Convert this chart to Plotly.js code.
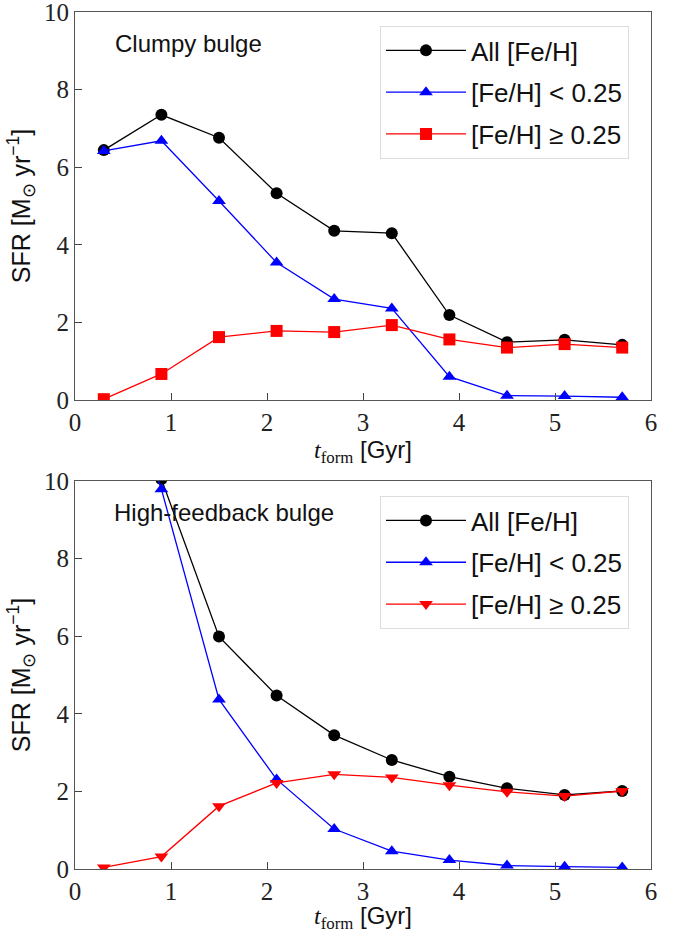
<!DOCTYPE html>
<html>
<head>
<meta charset="utf-8">
<script src="https://cdn.plot.ly/plotly-3.0.1.min.js"></script>
<style>html,body{margin:0;padding:0;background:#fff;}</style>
</head>
<body>
<div id="chart" style="width:680px;height:933px;"></div>
<script>
// t_form bin centres [Gyr]
const tform = [0.3, 0.9, 1.5, 2.1, 2.7, 3.3, 3.9, 4.5, 5.1, 5.7];

// Clumpy bulge SFR [Msun/yr]
const clumpyAll  = [6.44, 7.35, 6.76, 5.33, 4.36, 4.30, 2.19, 1.49, 1.55, 1.42];
const clumpyLow  = [6.42, 6.68, 5.13, 3.54, 2.60, 2.36, 0.60, 0.11, 0.10, 0.07];
const clumpyHigh = [0.02, 0.67, 1.62, 1.78, 1.75, 1.93, 1.56, 1.35, 1.44, 1.35];

// High-feedback bulge SFR [Msun/yr] (first bins exceed the axis range)
const fbAll  = [14.0, 10.05, 5.99, 4.47, 3.45, 2.81, 2.38, 2.08, 1.91, 2.01];
const fbLow  = [14.0, 9.79, 4.37, 2.31, 1.03, 0.46, 0.23, 0.09, 0.06, 0.04];
const fbHigh = [0.04, 0.32, 1.62, 2.22, 2.44, 2.36, 2.16, 1.99, 1.88, 2.01];

const names = ['All [Fe/H]', '[Fe/H] &lt; 0.25', '[Fe/H] ≥ 0.25'];
const panelLabels = ['Clumpy bulge', 'High-feedback bulge'];
const xTicks = [0, 1, 2, 3, 4, 5, 6];
const yTicks = [0, 2, 4, 6, 8, 10];

function tr(x, y, name, color, symbol, xa, ya, leg, grp) {
  return {
    x: x, y: y, name: name, type: 'scatter', mode: 'lines+markers',
    xaxis: xa, yaxis: ya, legend: leg, legendgroup: grp,
    line: {color: color, width: 1.3},
    marker: {color: color, symbol: symbol, size: 12},
    cliponaxis: true
  };
}

const data = [
  tr(tform, clumpyAll,  names[0], 'black', 'circle', 'x', 'y', 'legend', 'a1'),
  tr(tform, clumpyLow,  names[1], 'blue', 'triangle-up', 'x', 'y', 'legend', 'a2'),
  tr(tform, clumpyHigh, names[2], 'red', 'square', 'x', 'y', 'legend', 'a3'),
  tr(tform, fbAll,  names[0], 'black', 'circle', 'x2', 'y2', 'legend2', 'b1'),
  tr(tform, fbLow,  names[1], 'blue', 'triangle-up', 'x2', 'y2', 'legend2', 'b2'),
  tr(tform, fbHigh, names[2], 'red', 'triangle-down', 'x2', 'y2', 'legend2', 'b3')
];

const tickFont = {family: 'Liberation Serif, serif', size: 25, color: '#222'};
const titleFont = {family: 'Liberation Sans, Arial, sans-serif', size: 24, color: '#111'};
const xTitle = '<span style="font-family:Liberation Serif"><i>t</i></span><sub><span style="font-family:Liberation Serif">form</span></sub> [Gyr]';
const yTitle = 'SFR [M<sub>⊙</sub> yr<sup>−1</sup>]';

function xax(anchor) {
  return {
    anchor: anchor, domain: [0, 1], range: [0, 6], tickvals: xTicks,
    ticks: 'inside', ticklen: 7, tickcolor: '#444', tickwidth: 1,
    showline: true, mirror: true, linecolor: '#555', linewidth: 1,
    showgrid: false, zeroline: false, tickfont: tickFont,
    ticklabeloverflow: 'allow',
    title: {text: xTitle, font: titleFont, standoff: 6}
  };
}
function yax(anchor, dom) {
  return {
    anchor: anchor, domain: dom, range: [0, 10], tickvals: yTicks,
    ticks: 'inside', ticklen: 7, tickcolor: '#444', tickwidth: 1,
    showline: true, mirror: true, linecolor: '#555', linewidth: 1,
    showgrid: false, zeroline: false, tickfont: tickFont,
    ticklabeloverflow: 'allow',
    title: {text: yTitle, font: {family: titleFont.family, size: 25, color: '#111'}, standoff: 6}
  };
}

const legStyle = {
  font: {family: 'Liberation Sans, Arial, sans-serif', size: 26, color: '#111'},
  bgcolor: 'rgba(255,255,255,0.9)', bordercolor: '#ddd', borderwidth: 1,
  xanchor: 'left', yanchor: 'top', tracegroupgap: 5, itemwidth: 80
};

const layout = {
  width: 680, height: 933,
  margin: {l: 75, r: 29, t: 12, b: 64},
  paper_bgcolor: 'white', plot_bgcolor: 'white',
  showlegend: true,
  xaxis: xax('y'),
  yaxis: yax('x', [0.5473, 1]),
  xaxis2: xax('y2'),
  yaxis2: yax('x2', [0, 0.4527]),
  legend: Object.assign({x: 0.5295, y: 0.9837}, legStyle),
  legend2: Object.assign({x: 0.5295, y: 0.4352}, legStyle),
  annotations: [
    {text: panelLabels[0], xref: 'x domain', yref: 'y domain', x: 0.066, y: 0.92,
     xanchor: 'left', yanchor: 'middle', showarrow: false,
     font: {family: 'Liberation Sans, Arial, sans-serif', size: 24, color: '#111'}},
    {text: panelLabels[1], xref: 'x2 domain', yref: 'y2 domain', x: 0.064, y: 0.92,
     xanchor: 'left', yanchor: 'middle', showarrow: false,
     font: {family: 'Liberation Sans, Arial, sans-serif', size: 24, color: '#111'}}
  ]
};

Plotly.newPlot('chart', data, layout, {staticPlot: true, displayModeBar: false});
</script>
</body>
</html>
